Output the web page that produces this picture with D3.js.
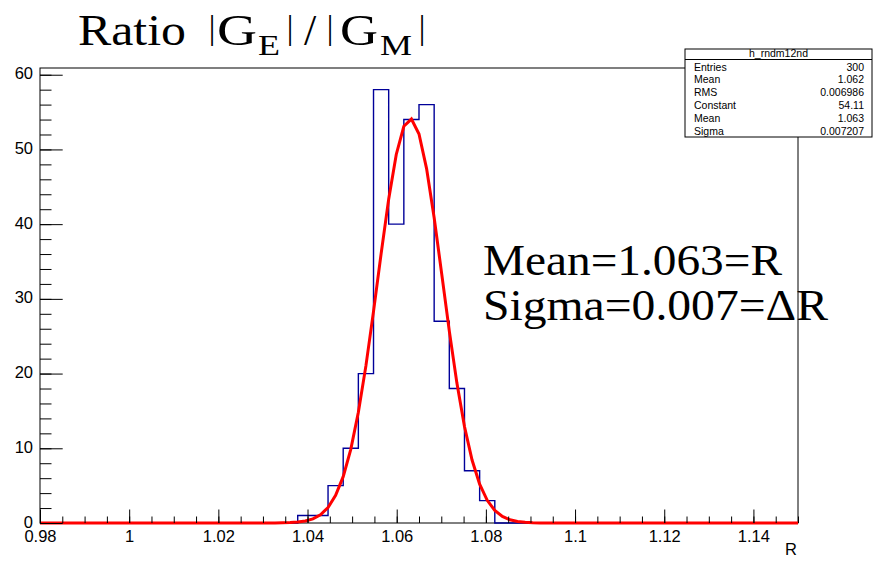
<!DOCTYPE html>
<html>
<head>
<meta charset="utf-8">
<script src="https://cdn.jsdelivr.net/npm/d3@7"></script>
<style>
  html, body { margin: 0; padding: 0; background: #fff; }
  svg { display: block; }
</style>
</head>
<body>
<svg id="chart" width="873" height="563"></svg>
<script>
// Histogram h_rndm12nd: 50 bins over [0.98, 1.15]
const xRange = [0.98, 1.15];
const yRange = [0, 60.9];
const binCounts = [
  0, 0, 0, 0, 0, 0, 0, 0, 0, 0,
  0, 0, 0, 0, 0, 0, 0, 1, 1, 5,
  10, 20, 58, 40, 54, 56, 27, 18, 7, 3,
  0, 0, 0, 0, 0, 0, 0, 0, 0, 0,
  0, 0, 0, 0, 0, 0, 0, 0, 0, 0
];

// Gaussian fit parameters: Constant, Mean, Sigma
const fitConstant = 54.11;
const fitMean = 1.063;
const fitSigma = 0.007207;
const fitPoints = 100;

const xMajorTicks = [0.98, 1, 1.02, 1.04, 1.06, 1.08, 1.1, 1.12, 1.14];
const xMinorTicks = d3.range(0, 35).map(i => +(0.98 + i * 0.005).toFixed(3));
const yMajorTicks = [0, 10, 20, 30, 40, 50, 60];
const yMinorTicks = d3.range(0, 31).map(i => i * 2);

const statsTitle = "h_rndm12nd";
const statsLabels = ["Entries", "Mean", "RMS", "Constant", "Mean", "Sigma"];
const statsValues = ["300", "1.062", "0.006986", "54.11", "1.063", "0.007207"];

const annotationLines = ["Mean=1.063=R", "Sigma=0.007=\u0394R"];

const svg = d3.select("#chart");
const plotLeft = 40, plotRight = 798, plotTop = 68, plotBottom = 523;

const x = d3.scaleLinear().domain(xRange).range([plotLeft, plotRight]);
const y = d3.scaleLinear().domain(yRange).range([plotBottom, plotTop]);

const sansFont = "'Liberation Sans', Arial, Helvetica, sans-serif";
const serifFont = "'Liberation Serif', 'Times New Roman', serif";
const labelSize = 16.5;

// Frame
svg.append("rect")
  .attr("x", plotLeft).attr("y", plotTop)
  .attr("width", plotRight - plotLeft).attr("height", plotBottom - plotTop)
  .attr("fill", "none").attr("stroke", "#000").attr("stroke-width", 1);

// Histogram outline (step)
const binWidth = (xRange[1] - xRange[0]) / binCounts.length;
const histPts = [[xRange[0], 0]];
binCounts.forEach((c, i) => {
  const lo = xRange[0] + i * binWidth;
  histPts.push([lo, c], [lo + binWidth, c]);
});
histPts.push([xRange[1], 0]);
svg.append("path")
  .attr("d", d3.line().x(d => x(d[0])).y(d => y(d[1]))(histPts))
  .attr("fill", "none")
  .attr("stroke", "#000099")
  .attr("stroke-width", 1.4);

// Fitted Gaussian
const fitData = d3.range(0, fitPoints + 1).map(i => {
  const xv = xRange[0] + i * (xRange[1] - xRange[0]) / fitPoints;
  const z = (xv - fitMean) / fitSigma;
  return [xv, fitConstant * Math.exp(-0.5 * z * z)];
});
svg.append("path")
  .attr("d", d3.line().x(d => x(d[0])).y(d => y(d[1]))(fitData))
  .attr("fill", "none")
  .attr("stroke", "#ff0000")
  .attr("stroke-width", 3)
  .attr("stroke-linejoin", "miter");

// X axis ticks and labels
const xMinor = svg.append("g").attr("transform", `translate(0,${plotBottom})`)
  .call(d3.axisBottom(x).tickValues(xMinorTicks).tickSize(-6.5).tickFormat(""));
const xMajor = svg.append("g").attr("transform", `translate(0,${plotBottom})`)
  .call(d3.axisBottom(x).tickValues(xMajorTicks).tickSize(-13.5).tickPadding(7)
    .tickFormat(d => String(d)));
[xMinor, xMajor].forEach(g => {
  g.select(".domain").remove();
  g.selectAll("line").attr("stroke", "#000");
});
xMajor.selectAll("text")
  .attr("font-family", sansFont).attr("font-size", labelSize).attr("fill", "#000");

// Y axis ticks and labels
const yMinor = svg.append("g").attr("transform", `translate(${plotLeft},0)`)
  .call(d3.axisLeft(y).tickValues(yMinorTicks).tickSize(-11.5).tickFormat(""));
const yMajor = svg.append("g").attr("transform", `translate(${plotLeft},0)`)
  .call(d3.axisLeft(y).tickValues(yMajorTicks).tickSize(-22.7).tickPadding(7)
    .tickFormat(d => String(d)));
[yMinor, yMajor].forEach(g => {
  g.select(".domain").remove();
  g.selectAll("line").attr("stroke", "#000");
});
yMajor.selectAll("text")
  .attr("font-family", sansFont).attr("font-size", labelSize).attr("fill", "#000")
  .attr("dy", "0.25em");

// Axis title
svg.append("text")
  .attr("x", 797).attr("y", 555)
  .attr("text-anchor", "end")
  .attr("font-family", sansFont).attr("font-size", labelSize)
  .text("R");

// Stats box
const sb = { x0: 685, x1: 872, y0: 49, y1: 137, titleBottom: 59.5 };
svg.append("rect")
  .attr("x", sb.x0).attr("y", sb.y0)
  .attr("width", sb.x1 - sb.x0).attr("height", sb.y1 - sb.y0)
  .attr("fill", "#fff").attr("stroke", "#000").attr("stroke-width", 1);
svg.append("line")
  .attr("x1", sb.x0).attr("x2", sb.x1)
  .attr("y1", sb.titleBottom).attr("y2", sb.titleBottom)
  .attr("stroke", "#000").attr("stroke-width", 1);
svg.append("text")
  .attr("x", (sb.x0 + sb.x1) / 2).attr("y", 57)
  .attr("text-anchor", "middle")
  .attr("font-family", sansFont).attr("font-size", 10.5)
  .text(statsTitle);
const rowY = d3.scaleLinear().domain([0, statsLabels.length - 1]).range([70.5, 134.8]);
statsLabels.forEach((lab, i) => {
  svg.append("text")
    .attr("x", 694).attr("y", rowY(i))
    .attr("font-family", sansFont).attr("font-size", 10.5)
    .text(lab);
  svg.append("text")
    .attr("x", 864).attr("y", rowY(i))
    .attr("text-anchor", "end")
    .attr("font-family", sansFont).attr("font-size", 10.5)
    .text(statsValues[i]);
});

// Title: Ratio |G_E|/|G_M|
const title = svg.append("g")
  .attr("font-family", serifFont).attr("fill", "#000");
const mainSize = 44, subSize = 29, barSize = 33, base = 45, subBase = 55, barBase = 39;
const titleParts = [
  { t: "Ratio", x: 78, w: 108, size: mainSize, yb: base },
  { t: "|", x: 212, size: barSize, yb: barBase, mid: true },
  { t: "G", x: 217, w: 40, size: mainSize, yb: base },
  { t: "E", x: 258, w: 22, size: subSize, yb: subBase },
  { t: "|", x: 290, size: barSize, yb: barBase, mid: true },
  { t: "/", x: 310, size: mainSize, yb: base, mid: true },
  { t: "|", x: 330, size: barSize, yb: barBase, mid: true },
  { t: "G", x: 340, w: 38, size: mainSize, yb: base },
  { t: "M", x: 380, w: 32, size: subSize, yb: subBase },
  { t: "|", x: 422, size: barSize, yb: barBase, mid: true }
];
titleParts.forEach(p => {
  const el = title.append("text")
    .attr("x", p.x).attr("y", p.yb)
    .attr("font-size", p.size)
    .attr("text-anchor", p.mid ? "middle" : "start")
    .text(p.t);
  if (p.w) el.attr("textLength", p.w).attr("lengthAdjust", "spacingAndGlyphs");
});

// Fit result annotation
const annWidths = [299, 345];
annotationLines.forEach((s, i) => {
  svg.append("text")
    .attr("x", 483).attr("y", 275 + i * 45)
    .attr("font-family", serifFont).attr("font-size", 44)
    .attr("textLength", annWidths[i]).attr("lengthAdjust", "spacingAndGlyphs")
    .text(s);
});
</script>
</body>
</html>
